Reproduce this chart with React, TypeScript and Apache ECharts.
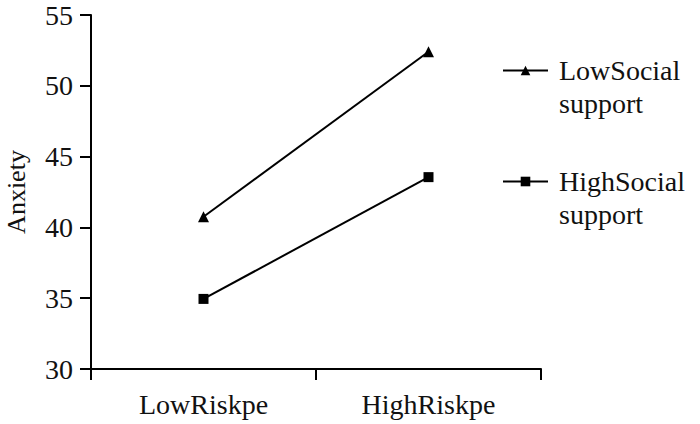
import React, { useEffect, useRef } from "react";
import * as echarts from "echarts";

const categories = ["LowRiskpe", "HighRiskpe"];
const lowSocial = [40.75, 52.4];
const highSocial = [34.95, 43.55];
const seriesNames = ["LowSocial support", "HighSocial support"];
const legendLabels = [" \nLowSocial\nsupport", " \nHighSocial\nsupport"];
const yTicks = { min: 30, max: 55, interval: 5 };

const FONT = "'Liberation Serif', 'Times New Roman', serif";
const INK = "#111111";

export default function App() {
  const ref = useRef<HTMLDivElement>(null);
  useEffect(() => {
    if (!ref.current) return;
    const chart = echarts.init(ref.current, null, { renderer: "svg" });
    chart.setOption({
      animation: false,
      backgroundColor: "#ffffff",
      textStyle: { fontFamily: FONT, color: INK },
      grid: {
        left: 91,
        right: 159,
        top: 15,
        bottom: 55,
        containLabel: false,
        outerBoundsMode: "none",
      },
      legend: {
        orient: "vertical",
        left: 502,
        top: 21,
        padding: 0,
        itemWidth: 45,
        itemHeight: 12,
        itemGap: 12,
        formatter: (name: string) => legendLabels[seriesNames.indexOf(name)],
        textStyle: {
          fontFamily: FONT,
          fontSize: 28,
          color: INK,
          lineHeight: 33,
          padding: [0, 0, 0, 6],
        },
        data: seriesNames,
      },
      xAxis: {
        type: "category",
        data: categories,
        boundaryGap: true,
        axisLine: { lineStyle: { color: "#000", width: 2 } },
        axisTick: { show: true, length: 11, lineStyle: { color: "#000", width: 2 } },
        axisLabel: { fontFamily: FONT, fontSize: 28, color: INK, margin: 21 },
        splitLine: { show: false },
      },
      yAxis: {
        type: "value",
        min: yTicks.min,
        max: yTicks.max,
        interval: yTicks.interval,
        name: "Anxiety",
        nameLocation: "middle",
        nameGap: 62,
        nameTextStyle: { fontFamily: FONT, fontSize: 26, color: INK },
        axisLine: { show: true, lineStyle: { color: "#000", width: 2 } },
        axisTick: { show: true, length: 11, lineStyle: { color: "#000", width: 2 } },
        axisLabel: { fontFamily: FONT, fontSize: 28, color: INK, margin: 18 },
        splitLine: { show: false },
      },
      series: [
        {
          name: seriesNames[0],
          type: "line",
          data: lowSocial,
          symbol: "triangle",
          symbolSize: 11,
          lineStyle: { color: "#000", width: 2 },
          itemStyle: { color: "#000" },
        },
        {
          name: seriesNames[1],
          type: "line",
          data: highSocial,
          symbol: "rect",
          symbolSize: 10,
          lineStyle: { color: "#000", width: 2 },
          itemStyle: { color: "#000" },
        },
      ],
    });
    return () => chart.dispose();
  }, []);
  return (
    <div
      ref={ref}
      style={{ position: "absolute", left: 0, top: 0, width: 700, height: 424 }}
    />
  );
}
